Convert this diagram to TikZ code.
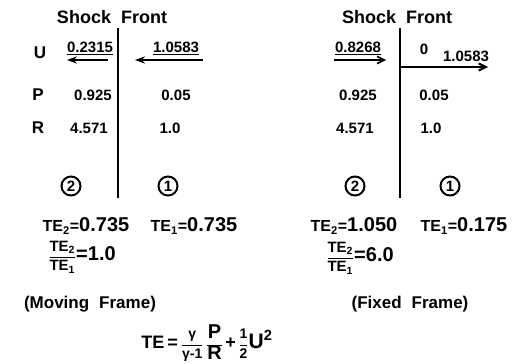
\documentclass[tikz,border=0pt]{standalone}
\usepackage{fontspec}
\setmainfont{Liberation Sans}
\usetikzlibrary{arrows.meta}
\newcommand{\upfrac}[2]{$\displaystyle\frac{\hbox{#1}}{\hbox{#2}}$}
\newcommand{\fs}[1]{\fontsize{#1}{#1}\selectfont}
\tikzset{
  every picture/.style={font=\bfseries, line width=1.2pt},
  title/.style={font=\bfseries\fs{18}},
  var/.style={font=\bfseries\fs{17}},
  val/.style={font=\bfseries\fs{15}, inner sep=1pt},
  region/.style={circle, draw, line width=2pt, inner sep=0pt, minimum size=19pt, font=\bfseries\fs{15}},
  energy/.style={font=\bfseries\fs{20}, inner sep=1pt},
  ratio/.style={font=\bfseries\fs{15}, inner sep=1pt},
  frame/.style={font=\bfseries\fs{17}},
  shock/.style={line width=2.2pt},
  flow/.style={-{Stealth[length=3.5mm, width=2.5mm]}, line width=2.2pt},
  fixedflow/.style={-{Straight Barb[length=2.5mm, width=2.5mm]}, line width=1.6pt},
}
\begin{document}
\begin{tikzpicture}[x=1pt, y=-1pt]
  \useasboundingbox (0,0) rectangle (525,364);
  % moving frame
  \node[title] (titleL) at (112,17) {Shock\hspace{10pt}Front};
  \coordinate (topL) at (118,28);
  \coordinate (botL) at (118,198);
  \draw[shock] (topL) -- (botL);
  \node[var] (uL) at (40,53) {U};
  \node[var] (pL) at (38,95) {P};
  \node[var] (rL) at (38,128) {R};
  \node[val] (u2L) at (90,48) {\underline{0.2315}};
  \node[val] (p2L) at (93,95) {0.925};
  \node[val] (r2L) at (89,128) {4.571};
  \node[val] (u1L) at (176,48) {\underline{1.0583}};
  \node[val] (p1L) at (176,95) {0.05};
  \node[val] (r1L) at (170,128) {1.0};
  \coordinate (a2s) at (108,60);
  \coordinate (a2e) at (67,60);
  \coordinate (a1s) at (203,60);
  \coordinate (a1e) at (135,60);
  \draw[flow] (a2s) -- (a2e);
  \draw[flow] (a1s) -- (a1e);
  \node[region] (twoL) at (71,186) {2};
  \node[region] (oneL) at (168,186) {1};
  \node[energy] (te2L) at (86,226) {{\fs{16}TE\textsubscript{2}=}0.735};
  \node[energy] (te1L) at (194,226) {{\fs{16}TE\textsubscript{1}=}0.735};
  \node[ratio] (ratL) at (82,257) {\upfrac{TE\textsubscript{2}}{TE\textsubscript{1}}{\fs{20}=1.0}};
  \node[frame] (movL) at (90,304) {(Moving\hspace{10pt}Frame)};
  % fixed frame
  \node[title] (titleR) at (397,17) {Shock\hspace{10pt}Front};
  \coordinate (topR) at (400,28);
  \coordinate (botR) at (400,198);
  \draw[shock] (topR) -- (botR);
  \node[val] (u2R) at (358,48) {\underline{0.8268}};
  \node[val] (p2R) at (358,95) {0.925};
  \node[val] (r2R) at (355,128) {4.571};
  \node[val] (u1R) at (424,49) {0};
  \node[val] (wR) at (466,56) {1.0583};
  \node[val] (p1R) at (434,95) {0.05};
  \node[val] (r1R) at (431,128) {1.0};
  \coordinate (b2s) at (334,60);
  \coordinate (b2e) at (386,60);
  \coordinate (jump) at (400,67);
  \coordinate (jumpe) at (488,67);
  \draw[fixedflow] (b2s) -- (b2e);
  \draw[fixedflow, line width=2pt] (jump) -- (jumpe);
  \node[region] (twoR) at (355,186) {2};
  \node[region] (oneR) at (450,186) {1};
  \node[energy] (te2R) at (354,226) {{\fs{16}TE\textsubscript{2}=}1.050};
  \node[energy] (te1R) at (464,226) {{\fs{16}TE\textsubscript{1}=}0.175};
  \node[ratio] (ratR) at (360,258) {\upfrac{TE\textsubscript{2}}{TE\textsubscript{1}}{\fs{20}=6.0}};
  \node[frame] (fixR) at (410,304) {(Fixed\hspace{10pt}Frame)};
  % total energy
  \node[ratio] (teq) at (207,343) {{\fs{18}TE\,=\,}\upfrac{\fs{14}γ}{\fs{14}γ-1}\,\upfrac{\fs{20}P}{\fs{20}R}\,{\fs{18}+}\,\upfrac{\fs{14}1}{\fs{14}2}{\fs{21}U\textsuperscript{2}}};
\end{tikzpicture}
\end{document}
